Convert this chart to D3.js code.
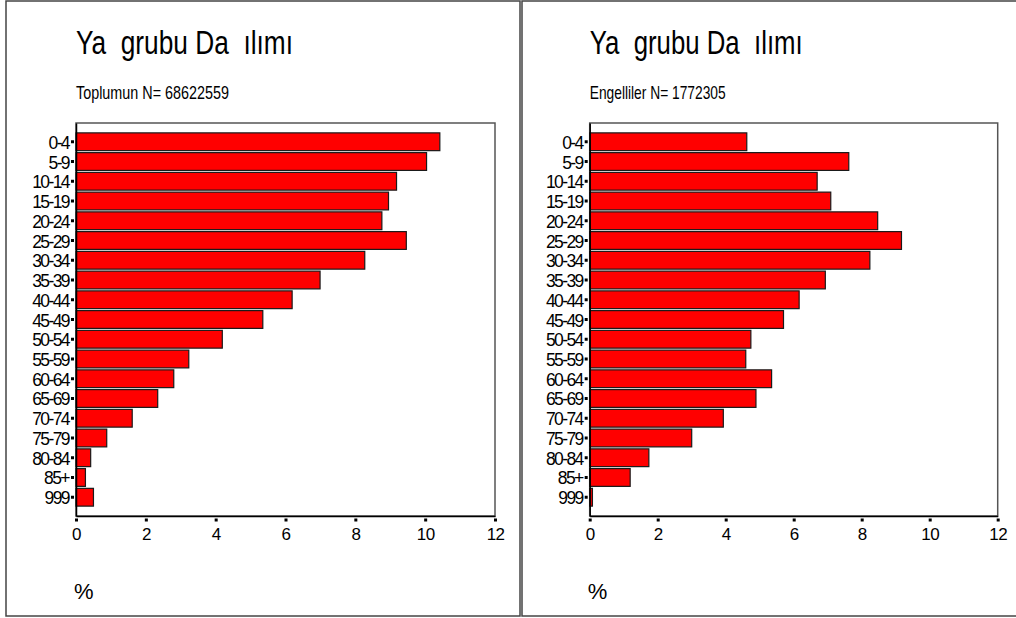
<!DOCTYPE html>
<html>
<head>
<meta charset="utf-8">
<script src="https://cdn.jsdelivr.net/npm/d3@7"></script>
<style>
  html, body { margin: 0; padding: 0; background: #fff; }
  svg { display: block; font-family: Arial, "Liberation Sans", sans-serif; }
</style>
</head>
<body>
<svg id="chart" width="1016" height="618"></svg>
<script>
// ---- data ----
const categories = ["0-4","5-9","10-14","15-19","20-24","25-29","30-34","35-39","40-44","45-49","50-54","55-59","60-64","65-69","70-74","75-79","80-84","85+","999"];
const toplumValues = [10.42,10.04,9.18,8.95,8.76,9.46,8.27,6.99,6.19,5.35,4.19,3.23,2.80,2.34,1.61,0.88,0.42,0.27,0.50];
const engelliValues = [4.62,7.62,6.69,7.09,8.47,9.17,8.24,6.93,6.16,5.70,4.74,4.59,5.35,4.89,3.93,3.00,1.74,1.19,0.08];
const xTicks = [0,2,4,6,8,10,12];
const titleText = "Ya  grubu Da  ılımı";
const subtitles = ["Toplumun N= 68622559", "Engelliler N= 1772305"];
const axisLabel = "%";

const svg = d3.select("#chart");
const FONT = "Arial, 'Liberation Sans', sans-serif";

// panel frames
svg.append("rect").attr("x",6).attr("y",1).attr("width",514).attr("height",615)
  .attr("fill","none").attr("stroke","#444").attr("stroke-width",1.5);
svg.append("rect").attr("x",522).attr("y",1).attr("width",520).attr("height",615)
  .attr("fill","none").attr("stroke","#444").attr("stroke-width",1.5);

function drawPanel(cfg) {
  const top = 123, bottom = 516;
  const x = d3.scaleLinear().domain([0,12]).range([cfg.x0, cfg.x1]);
  const y = d3.scaleBand().domain(categories).range([top, bottom])
    .paddingInner(0.1).paddingOuter(0.5);

  // title
  svg.append("text").attr("x", cfg.x0).attr("y", 53.5)
    .attr("font-size", 34).attr("fill","#000")
    .attr("textLength", cfg.titleLen).attr("lengthAdjust","spacingAndGlyphs")
    .style("white-space","pre")
    .text(titleText);
  svg.append("text").attr("x", cfg.x0).attr("y", 99.3)
    .attr("font-size", 19).attr("fill","#000")
    .attr("textLength", cfg.subLen).attr("lengthAdjust","spacingAndGlyphs")
    .text(cfg.subtitle);

  // plot frame
  svg.append("rect").attr("x", cfg.x0).attr("y", top)
    .attr("width", cfg.x1 - cfg.x0).attr("height", bottom - top)
    .attr("fill","#fff").attr("stroke","#555").attr("stroke-width",1.5);

  // bars
  svg.append("g").selectAll("rect").data(cfg.values).join("rect")
    .attr("x", x(0))
    .attr("y", (d,i) => y(categories[i]))
    .attr("width", d => x(d) - x(0))
    .attr("height", y.bandwidth())
    .attr("fill", "#ff0000")
    .attr("stroke", "#1a1a1a")
    .attr("stroke-width", 1.2);

  // y axis
  const yAxis = svg.append("g").attr("transform", `translate(${cfg.x0},0)`)
    .call(d3.axisLeft(y).tickSizeInner(0).tickSizeOuter(0).tickPadding(7));
  yAxis.select(".domain").attr("stroke","#000").attr("stroke-width",1.5);
  yAxis.selectAll(".tick text").attr("fill","#000")
    .style("font-size","17.5px").style("font-family", FONT)
    .attr("letter-spacing", -1.6).attr("dy","0.4em");
  yAxis.selectAll(".tick").append("rect")
    .attr("x",-5).attr("y",-1.5).attr("width",3).attr("height",3).attr("fill","#000");

  // x axis
  const xAxis = svg.append("g").attr("transform", `translate(0,${bottom})`)
    .call(d3.axisBottom(x).tickValues(xTicks).tickSizeInner(0).tickSizeOuter(0).tickPadding(12));
  xAxis.select(".domain").attr("stroke","#000").attr("stroke-width",1.5);
  xAxis.selectAll(".tick text").attr("fill","#000")
    .style("font-size","17px").style("font-family", FONT).attr("letter-spacing", -0.6);
  xAxis.selectAll(".tick").append("rect")
    .attr("x",-1.5).attr("y",2.5).attr("width",3).attr("height",3).attr("fill","#000");

  svg.append("text").attr("x", cfg.x0 - 2).attr("y", 599)
    .attr("font-size", 22).attr("fill","#000").text(axisLabel);
}

drawPanel({x0: 76, x1: 495, values: toplumValues, subtitle: subtitles[0], titleLen: 217, subLen: 153});
drawPanel({x0: 589.7, x1: 997.7, values: engelliValues, subtitle: subtitles[1], titleLen: 213, subLen: 136});
</script>
</body>
</html>
